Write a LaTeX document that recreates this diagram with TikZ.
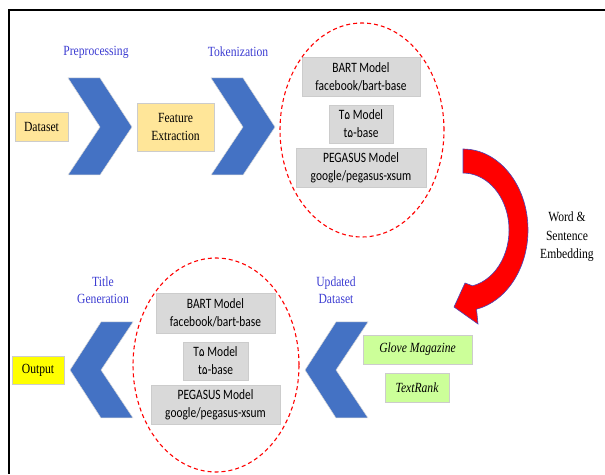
\documentclass[tikz,border=0pt]{standalone}
\usepackage{fontspec}
\setmainfont[FakeStretch=0.83]{Liberation Serif}
\newfontfamily\carlito[FakeStretch=0.8]{Carlito}
\newfontfamily\arabicdigit{DejaVu Sans}
\usepackage{tikz}
\usetikzlibrary{shapes.geometric, arrows.meta, positioning, calc}
\usepackage{xcolor}
\definecolor{chevblue}{RGB}{68,114,196}
\definecolor{labelblue}{RGB}{60,60,210}
\definecolor{inputyellow}{RGB}{255,230,153}
\definecolor{outyellow}{RGB}{255,255,0}
\definecolor{boxgray}{RGB}{217,217,217}
\definecolor{embgreen}{RGB}{204,255,153}
\newcommand{\five}{{\arabicdigit\fontsize{11}{18}\selectfont ۵}}

\begin{document}
\begin{tikzpicture}[x=1pt, y=1pt,
            stage/.style={rectangle, draw=gray!40, line width=0.8pt, fill=inputyellow, align=center, inner sep=0pt, font=\fontsize{14}{18}\selectfont},
            model/.style={rectangle, draw=gray!40, line width=0.8pt, fill=boxgray, align=center, inner sep=0pt, minimum height=39pt, font=\carlito\fontsize{14.3}{18}\selectfont},
            embed/.style={rectangle, draw=gray!40, line width=0.8pt, fill=embgreen, inner sep=0pt, minimum height=29pt, font=\itshape\fontsize{14}{18}\selectfont},
            steplabel/.style={text=labelblue, align=center, font=\fontsize{14}{17}\selectfont},
            chevron/.style={fill=chevblue, draw=gray!30, line width=0.5pt},
            group/.style={draw=red, dashed, line width=1.1pt, dash pattern=on 4pt off 3pt}]

        \useasboundingbox (0,0) rectangle (605,474);

        % Frame
        \draw[line width=2pt] (605,464) -- (9,464) -- (9,0);

        % Upper row
        \node [stage, minimum width=53pt, minimum height=29pt] (dataset) at (41.5,347.5) {Dataset};
        \node [stage, minimum width=77pt, minimum height=48pt] (feature) at (175.5,347) {Feature\\Extraction};
        \filldraw[chevron] (68,396) -- (100,396) -- (132,347) -- (100,299) -- (68,299) -- (100,347) -- cycle;
        \filldraw[chevron] (211,396) -- (243,396) -- (275,347) -- (243,299) -- (211,299) -- (243,347) -- cycle;
        \node [steplabel] (prep) at (96,422) {Preprocessing};
        \node [steplabel] (token) at (238,422) {Tokenization};

        % Models (training)
        \node [model, minimum width=118pt] (bart1) at (361,397.5) {BART Model\\facebook/bart-base};
        \node [model, minimum width=64pt, minimum height=38pt] (tfive1) at (361,350) {T\five{} Model\\t\five-base};
        \node [model, minimum width=130pt] (pegasus1) at (361,306.5) {PEGASUS Model\\google/pegasus-xsum};
        \draw[group] (362,344) ellipse [x radius=82, y radius=107];

        % Embedding arrow
        \filldraw[fill=red, draw=blue!45!gray, line width=0.6pt]
            (463,325) arc[start angle=90, end angle=-78, x radius=65, y radius=81]
            -- (478,150) -- (454,167) -- (465,191)
            -- (472.6,188.2) arc[start angle=-78, end angle=90, x radius=46, y radius=57]
            -- cycle;
        \node [align=center, font=\fontsize{14}{18.5}\selectfont] (wordemb) at (567,237) {Word \&\\Sentence\\Embedding};

        % Lower row
        \node [embed, minimum width=109pt] (glove) at (417.5,124.5) {Glove Magazine};
        \node [embed, minimum width=64pt] (textrank) at (417,86.5) {TextRank};
        \filldraw[chevron] (368,152) -- (336,152) -- (305,104) -- (336,56) -- (368,56) -- (336,104) -- cycle;
        \node [steplabel] (updated) at (336,183.5) {Updated\\Dataset};

        % Models (generation)
        \node [model, minimum width=119pt, minimum height=40pt] (bart2) at (215.5,161) {BART Model\\facebook/bart-base};
        \node [model, minimum width=65pt, minimum height=38pt] (tfive2) at (215.5,113) {T\five{} Model\\t\five-base};
        \node [model, minimum width=129pt] (pegasus2) at (215.5,69.5) {PEGASUS Model\\google/pegasus-xsum};
        \draw[group] (216,109) ellipse [x radius=83, y radius=107];

        \filldraw[chevron] (133,152) -- (101,152) -- (70,104) -- (101,56) -- (133,56) -- (101,104) -- cycle;
        \node [steplabel] (titlegen) at (103,183.5) {Title\\Generation};
        \node [stage, fill=outyellow, minimum width=52pt, minimum height=28pt] (output) at (38,104) {Output};

    \end{tikzpicture}
\end{document}
